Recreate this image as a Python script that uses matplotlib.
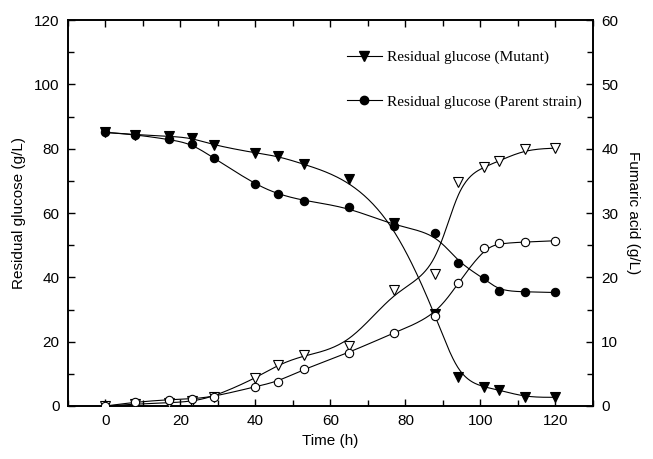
"""
Restglukose og fumarsyre over tid for mutant og foreldrestamme.
"""

import numpy as np
import matplotlib
matplotlib.use("Agg")
import matplotlib.pyplot as plt
from matplotlib.ticker import MultipleLocator

plt.rcParams["font.family"] = ["Liberation Sans", "DejaVu Sans"]

TID = [0, 8, 17, 23, 29, 40, 46, 53, 65, 77, 88, 94, 101, 105, 112, 120]

GLUKOSE_MUTANT = [85.1, 84.4, 83.9, 83.4, 81.1, 78.7, 77.7, 75.2, 70.5, 57.0,
                  28.6, 8.9, 5.8, 5.0, 2.7, 2.7]
GLUKOSE_FORELDER = [85.1, 84.4, 82.9, 81.6, 77.0, 68.9, 65.9, 63.8, 61.8, 56.0,
                    53.9, 44.6, 39.7, 35.8, 35.5, 35.3]

# Fumarsyre leses mot høyre akse (0-60 g/L)
FUMAR_MUTANT = [0.0, 0.3, 0.5, 0.7, 1.45, 4.3, 6.4, 7.9, 9.3, 18.1,
                20.5, 34.9, 37.2, 38.1, 39.9, 40.1]
FUMAR_FORELDER = [0.0, 0.6, 1.0, 1.1, 1.45, 3.0, 3.8, 5.75, 8.3, 11.4,
                  14.0, 19.1, 24.5, 25.3, 25.5, 25.7]


def bspline(x, y, n=30):
    """Uniform kubisk B-spline med datapunktene som kontrollpunkter
    (samme linjetype som 'B-Spline' i Origin)."""
    px = np.r_[[x[0]] * 2, x, [x[-1]] * 2].astype(float)
    py = np.r_[[y[0]] * 2, y, [y[-1]] * 2].astype(float)
    t = np.linspace(0, 1, n, endpoint=False)
    b0 = (1 - t) ** 3 / 6
    b1 = (3 * t**3 - 6 * t**2 + 4) / 6
    b2 = (-3 * t**3 + 3 * t**2 + 3 * t + 1) / 6
    b3 = t**3 / 6
    xs, ys = [], []
    for i in range(len(px) - 3):
        xs.append(b0 * px[i] + b1 * px[i + 1] + b2 * px[i + 2] + b3 * px[i + 3])
        ys.append(b0 * py[i] + b1 * py[i + 1] + b2 * py[i + 2] + b3 * py[i + 3])
    xs.append([x[-1]])
    ys.append([y[-1]])
    return np.concatenate(xs), np.concatenate(ys)


def main():
    fig = plt.figure(figsize=(6.53, 4.59), dpi=100)
    ax = fig.add_axes([0.104, 0.1155, 0.804, 0.8405])
    ax2 = ax.twinx()

    lw = 0.8
    for serie, mk in [(GLUKOSE_MUTANT, "v"), (GLUKOSE_FORELDER, "o")]:
        xs, ys = bspline(TID, serie)
        ax.plot(xs, ys, color="black", lw=lw, zorder=2)
        ax.plot(TID, serie, ls="none", marker=mk, ms=6.5 if mk == "v" else 6,
                mfc="black", mec="black", mew=0.8, zorder=3)

    for serie, mk in [(FUMAR_MUTANT, "v"), (FUMAR_FORELDER, "o")]:
        xs, ys = bspline(TID, serie)
        ax2.plot(xs, ys, color="black", lw=lw, zorder=2)
        ax2.plot(TID, serie, ls="none", marker=mk, ms=7 if mk == "v" else 6,
                 mfc="white", mec="black", mew=0.8, zorder=3)

    ax.set_xlim(-10, 130)
    ax.set_ylim(0, 120)
    ax2.set_ylim(0, 60)

    ax.xaxis.set_major_locator(MultipleLocator(20))
    ax.xaxis.set_minor_locator(MultipleLocator(10))
    ax.yaxis.set_major_locator(MultipleLocator(20))
    ax.yaxis.set_minor_locator(MultipleLocator(10))
    ax2.yaxis.set_major_locator(MultipleLocator(10))
    ax2.yaxis.set_minor_locator(MultipleLocator(5))

    ax.tick_params(axis="x", which="both", direction="in", top=True,
                   labelsize=11, pad=6)
    ax.tick_params(axis="y", which="both", direction="in", labelsize=11, pad=6)
    ax2.tick_params(axis="y", which="both", direction="in", labelsize=11, pad=6)
    for a in (ax, ax2):
        a.tick_params(which="major", length=5, width=1)
        a.tick_params(which="minor", length=4, width=1)
        for sp in a.spines.values():
            sp.set_linewidth(1.2)

    ax.set_xlabel("Time (h)", fontsize=11, labelpad=4)
    ax.set_ylabel("Residual glucose (g/L)", fontsize=11, labelpad=6)
    ax2.set_ylabel("Fumaric acid (g/L)", fontsize=11, rotation=270, labelpad=16)

    h1 = ax.plot([], [], color="black", lw=lw, marker="v", ms=6.5,
                 mfc="black", mec="black")[0]
    h2 = ax.plot([], [], color="black", lw=lw, marker="o", ms=6,
                 mfc="black", mec="black")[0]
    ax2.legend([h1, h2],
               ["Residual glucose (Mutant)", "Residual glucose (Parent strain)"],
               loc="upper left", bbox_to_anchor=(0.531, 0.922), frameon=False,
               prop={"family": "Liberation Serif", "size": 11},
               numpoints=1, handlelength=2.3, handletextpad=0.33,
               labelspacing=2.0, borderpad=0, borderaxespad=0)

    fig.savefig("out.png", dpi=100)
    plt.close(fig)


if __name__ == "__main__":
    main()
